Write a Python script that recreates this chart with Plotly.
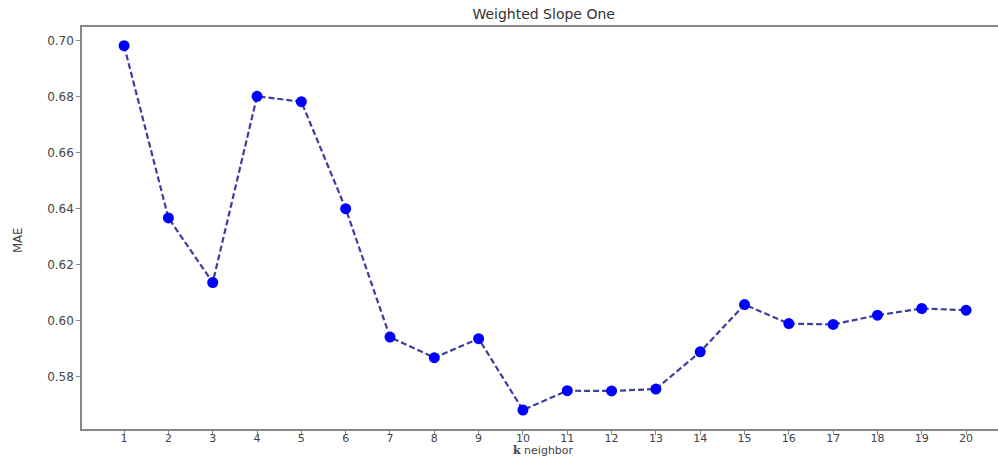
import plotly.graph_objects as go

k_values = list(range(1, 21))
mae_values = [0.6983, 0.6367, 0.6136, 0.6802, 0.6783, 0.6400, 0.5941, 0.5867, 0.5935, 0.5680,
              0.5749, 0.5748, 0.5755, 0.5888, 0.6057, 0.5989, 0.5986, 0.6019, 0.6043, 0.6037]
y_ticks = [0.58, 0.60, 0.62, 0.64, 0.66, 0.68, 0.70]

title_text = "Weighted Slope One"
x_title = "<span style='font-family:DejaVu Serif'><b>k</b></span> neighbor"
y_title = "MAE"

fig = go.Figure()
fig.add_trace(go.Scatter(
    x=k_values, y=mae_values, mode="lines",
    line=dict(color="#3e3e9c", width=2.2, dash="6px,3px"),
    showlegend=False, hoverinfo="skip"))
fig.add_trace(go.Scatter(
    x=k_values, y=mae_values, mode="markers",
    marker=dict(color="#0000ff", size=11, line=dict(width=0)),
    showlegend=False))

fig.update_layout(
    width=998, height=459,
    margin=dict(l=82, r=0, t=27, b=30),
    paper_bgcolor="white", plot_bgcolor="white",
    title=dict(text=title_text, x=0.504, xanchor="center", y=0.97, yanchor="middle",
               xref="paper", font=dict(family="DejaVu Sans", size=14, color="#333")),
    xaxis=dict(range=[0.05, 20.72], tickmode="array", tickvals=k_values,
               ticktext=[str(k) for k in k_values],
               showline=True, linecolor="#888", linewidth=1.5, mirror=True,
               ticks="outside", ticklen=4, tickcolor="#888", ticklabelstandoff=-6,
               showgrid=False, zeroline=False,
               tickfont=dict(family="DejaVu Sans", size=11, color="#444")),
    yaxis=dict(range=[0.5612, 0.7050], tickmode="array", tickvals=y_ticks,
               tickformat=".2f",
               showline=True, linecolor="#888", linewidth=1.5, mirror=False,
               ticks="outside", ticklen=4, tickcolor="#888",
               showgrid=False, zeroline=False,
               tickfont=dict(family="DejaVu Sans", size=12, color="#444")),
    annotations=[
        dict(text=x_title, xref="paper", yref="paper", x=0.504, y=-30 / 402,
             xanchor="center", yanchor="bottom", showarrow=False,
             font=dict(family="DejaVu Sans", size=11, color="#444")),
        dict(text=y_title, xref="paper", yref="paper", x=-0.071, y=0.47,
             xanchor="center", yanchor="middle", textangle=-90, showarrow=False,
             font=dict(family="DejaVu Sans Condensed", size=13, color="#444")),
    ],
)

fig.write_html("out.html", config={"displayModeBar": False},
               post_script="document.body.style.margin='0';document.body.style.overflow='hidden';")
